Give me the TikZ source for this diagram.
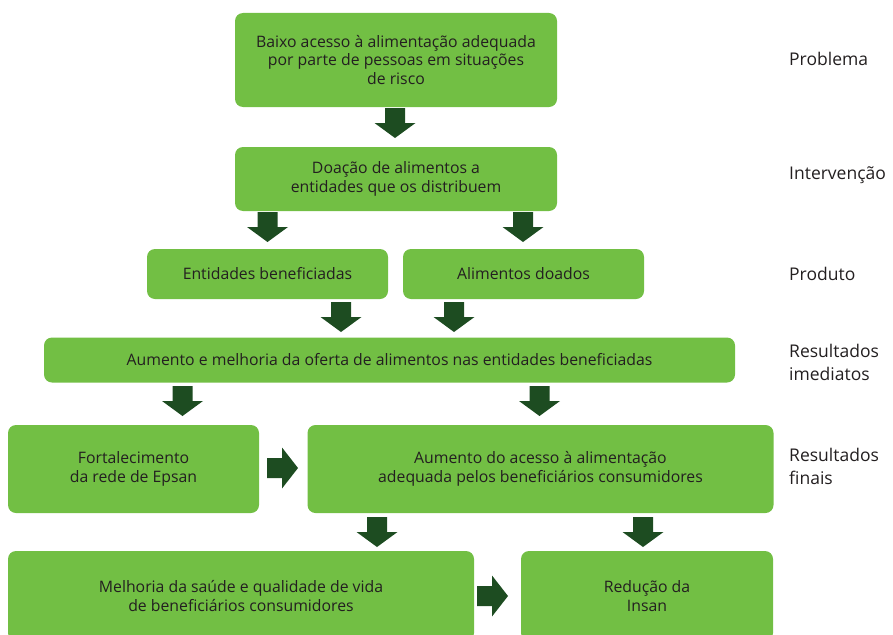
\documentclass[tikz,border=0pt]{standalone}
\usepackage{fontspec}
\setmainfont{Open Sans}
\definecolor{boxgreen}{RGB}{114,191,68}
\definecolor{arrgreen}{RGB}{29,76,33}
\definecolor{txt}{RGB}{35,31,32}
\tikzset{
  box/.style={fill=boxgreen, draw=none, rounded corners=8pt, inner sep=0pt, outer sep=0pt,
    align=center, text=txt, font=\fontsize{15.8}{18.8}\selectfont},
  downarr/.pic={\fill[arrgreen] (-10,0) -- (10,0) -- (10,15) -- (20.5,15) -- (0,30)
      -- (-20.5,15) -- (-10,15) -- cycle;},
  rightarr/.pic={\fill[arrgreen] (0,-10) -- (0,10) -- (15,10) -- (15,20.5) -- (31,0)
      -- (15,-20.5) -- (15,-10) -- cycle;},
  level/.style={anchor=west, align=left, text=txt, inner sep=0pt,
    font=\fontsize{17.5}{23}\selectfont}
}
\begin{document}
\begin{tikzpicture}[x=1pt,y=-1pt]
\useasboundingbox (0,0) rectangle (893,634);
% boxes
\node[box, minimum width=322pt, minimum height=94pt] (b1) at (396,60)
  {Baixo acesso à alimentação adequada\\por parte de pessoas em situações\\de risco};
\node[box, minimum width=322pt, minimum height=64pt] (b2) at (396,179)
  {Doação de alimentos a\\entidades que os distribuem};
\node[box, minimum width=241pt, minimum height=50pt] (b3) at (267.5,274)
  {Entidades beneficiadas};
\node[box, minimum width=241pt, minimum height=50pt] (b4) at (523.5,274)
  {Alimentos doados};
\node[box, minimum width=691pt, minimum height=45pt] (b5) at (389.5,360)
  {Aumento e melhoria da oferta de alimentos nas entidades beneficiadas};
\node[box, minimum width=251pt, minimum height=88pt] (b6) at (133.5,469)
  {Fortalecimento\\da rede de Epsan};
\node[box, minimum width=466pt, minimum height=88pt] (b7) at (540.5,469)
  {Aumento do acesso à alimentação\\adequada pelos beneficiários consumidores};
\node[box, minimum width=466pt, minimum height=90pt] (b8) at (241,596)
  {Melhoria da saúde e qualidade de vida\\de beneficiários consumidores};
\node[box, minimum width=252pt, minimum height=90pt] (b9) at (647,596)
  {Redução da\\Insan};
% block arrows
\pic (a1) at (395,108) {downarr};
\pic (a2) at (267.5,212) {downarr};
\pic (a3) at (523,212) {downarr};
\pic (a4) at (341,302) {downarr};
\pic (a5) at (454,302) {downarr};
\pic (a6) at (182.5,386) {downarr};
\pic (a7) at (539.5,386) {downarr};
\pic (a8) at (377,517) {downarr};
\pic (a9) at (643,517) {downarr};
\pic (r1) at (267,468) {rightarr};
\pic (r2) at (477,596) {rightarr};
% level labels
\node[level] (l1) at (789,59) {Problema};
\node[level] (l2) at (789,175) {Intervenção};
\node[level] (l3) at (789,274) {Produto};
\node[level] (l4) at (789,362.5) {Resultados\\imediatos};
\node[level] (l5) at (789,466.5) {Resultados\\finais};
\end{tikzpicture}
\end{document}
